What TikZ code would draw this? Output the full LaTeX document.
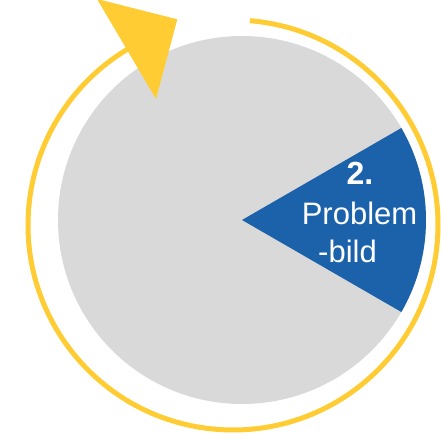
\documentclass[tikz,border=0pt]{standalone}
\usepackage{fontspec}
\setmainfont{Liberation Sans}
\definecolor{pgrey}{RGB}{217,217,217}
\definecolor{pblue}{RGB}{27,98,170}
\definecolor{pyellow}{RGB}{255,204,51}
\tikzset{
  wtext/.style={text=white, inner sep=0pt, anchor=base, font=\fontsize{31}{37}\selectfont},
}
\begin{document}
\begin{tikzpicture}[x=1pt,y=1pt]
\useasboundingbox (0,0) rectangle (441,438);
\coordinate (gc) at (242,218);
\coordinate (yc) at (233,213);
% grey disc
\fill[pgrey] (gc) circle[radius=184];
% blue sector
\fill[pblue] (gc) -- ++(30:184) arc[start angle=30, end angle=-30, radius=184] -- cycle;
% yellow ring arrow
\draw[pyellow, line width=5] (yc) ++(85.3:205) arc[start angle=85.3, end angle=-242, radius=205];
\fill[pyellow] (97,439) -- (177.3,418.7) -- (156,339) -- cycle;
% texts
\node[wtext, font=\fontsize{32}{38}\selectfont\bfseries] (num) at (360,253) {2.};
\node[wtext] (t1) at (359.5,213) {Problem};
\node[wtext] (t2) at (347.5,175) {-bild};
\end{tikzpicture}
\end{document}
